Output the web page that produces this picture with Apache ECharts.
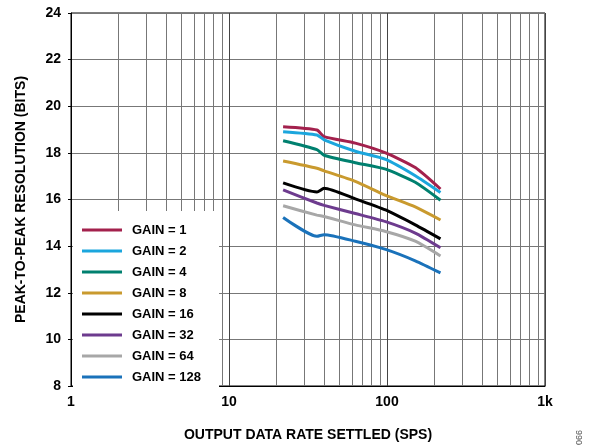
<!DOCTYPE html>
<html>
<head>
    <meta charset="utf-8">
    <title>Peak-to-Peak Resolution vs Output Data Rate</title>
    <script src="https://cdn.jsdelivr.net/npm/echarts@6/dist/echarts.min.js"></script>
    <style>
        html, body { margin: 0; padding: 0; background: #fff; }
        #chart-container { width: 595px; height: 447px; }
    </style>
</head>
<body>
<div id="chart-container"></div>

<script>
    var FONT = '"Liberation Sans", Arial, sans-serif';

    // data rates (SPS) sampled along the curves
    var rates = [22, 36, 40, 63, 98, 151, 218];

    var gain1 = [19.12, 18.98, 18.70, 18.42, 18.00, 17.37, 16.45];
    var gain2 = [18.91, 18.77, 18.56, 18.07, 17.72, 17.02, 16.30];
    var gain4 = [18.52, 18.14, 17.90, 17.58, 17.30, 16.74, 15.97];
    var gain8 = [17.65, 17.34, 17.23, 16.78, 16.18, 15.68, 15.12];
    var gain16 = [16.71, 16.32, 16.48, 16.03, 15.55, 14.91, 14.31];
    var gain32 = [16.41, 15.85, 15.75, 15.40, 15.05, 14.56, 13.93];
    var gain64 = [15.73, 15.33, 15.27, 14.91, 14.63, 14.21, 13.58];
    var gain128 = [15.23, 14.42, 14.49, 14.21, 13.86, 13.37, 12.85];

    var seriesNames = ['GAIN = 1', 'GAIN = 2', 'GAIN = 4', 'GAIN = 8',
                       'GAIN = 16', 'GAIN = 32', 'GAIN = 64', 'GAIN = 128'];
    var seriesValues = [gain1, gain2, gain4, gain8, gain16, gain32, gain64, gain128];
    var colors = ['#a3214d', '#1ba6dd', '#00806f', '#c99a2e',
                  '#000000', '#6d3b8e', '#a7a7a7', '#1a72ba'];

    // minor log grid lines
    var minorTicks = [2, 3, 4, 5, 6, 7, 8, 9, 20, 30, 40, 50, 60, 70, 80, 90,
                      200, 300, 400, 500, 600, 700, 800, 900];
    var xTickLabels = { 1: '1', 10: '10', 100: '100', 1000: '1k' };

    var myChart = echarts.init(document.getElementById('chart-container'));

    var series = seriesValues.map(function (vals, i) {
        return {
            name: seriesNames[i],
            type: 'line',
            data: rates.map(function (r, j) { return [r, vals[j]]; }),
            showSymbol: false,
            smooth: 0.2,
            lineStyle: { width: 3, color: colors[i] },
            itemStyle: { color: colors[i] },
            z: 6
        };
    });

    // minor vertical grid lines through the log axis (kept under the legend box)
    series.push({
        type: 'line',
        data: [],
        silent: true,
        z: 1,
        markLine: {
            z: 1,
            silent: true,
            symbol: 'none',
            label: { show: false },
            lineStyle: { color: '#777', width: 1, type: 'solid' },
            data: minorTicks.map(function (v) { return { xAxis: v }; })
        }
    });

    var option = {
        animation: false,
        color: colors,
        grid: {
            left: 71,
            right: 50,
            top: 13,
            bottom: 55,
            show: true,
            borderColor: '#000',
            borderWidth: 1
        },
        legend: {
            data: seriesNames,
            orient: 'vertical',
            left: 73,
            top: 211,
            z: 4,
            padding: [12, 18, 3, 9],
            backgroundColor: '#fff',
            icon: 'rect',
            itemWidth: 40,
            itemHeight: 3,
            itemGap: 7,
            textStyle: {
                fontFamily: FONT,
                fontWeight: 'bold',
                fontSize: 13,
                color: '#000',
                lineHeight: 14,
                padding: [0, 0, 0, 5]
            }
        },
        xAxis: {
            type: 'log',
            logBase: 10,
            min: 1,
            max: 1000,
            name: 'OUTPUT DATA RATE SETTLED (SPS)',
            nameLocation: 'middle',
            nameGap: 42,
            nameTextStyle: { fontFamily: FONT, fontWeight: 'bold', fontSize: 14, color: '#000' },
            axisLine: { lineStyle: { color: '#000', width: 1 } },
            axisTick: { show: false },
            axisLabel: {
                fontFamily: FONT,
                fontWeight: 'bold',
                fontSize: 14,
                color: '#000',
                margin: 9,
                formatter: function (v) { return xTickLabels[Math.round(v)] || ''; }
            },
            splitLine: { show: true, lineStyle: { color: '#444', width: 1 } }
        },
        yAxis: {
            type: 'value',
            min: 8,
            max: 24,
            interval: 2,
            name: 'PEAK-TO-PEAK RESOLUTION (BITS)',
            nameLocation: 'middle',
            nameGap: 43,
            nameTextStyle: { fontFamily: FONT, fontWeight: 'bold', fontSize: 14, color: '#000' },
            axisLine: { show: true, lineStyle: { color: '#000', width: 1 } },
            axisTick: { show: true, inside: false, length: 3, lineStyle: { color: '#000' } },
            axisLabel: {
                fontFamily: FONT,
                fontWeight: 'bold',
                fontSize: 14,
                color: '#000',
                margin: 10
            },
            splitLine: { show: true, lineStyle: { color: '#777', width: 1 } }
        },
        graphic: [
            {
                type: 'text',
                left: 575,
                top: 430,
                rotation: Math.PI / 2,
                style: {
                    text: '066',
                    fill: '#555',
                    fontFamily: FONT,
                    fontSize: 9
                }
            }
        ],
        series: series
    };

    myChart.setOption(option);
    window.addEventListener('resize', function () {
        myChart.resize();
    });
</script>
</body>
</html>
